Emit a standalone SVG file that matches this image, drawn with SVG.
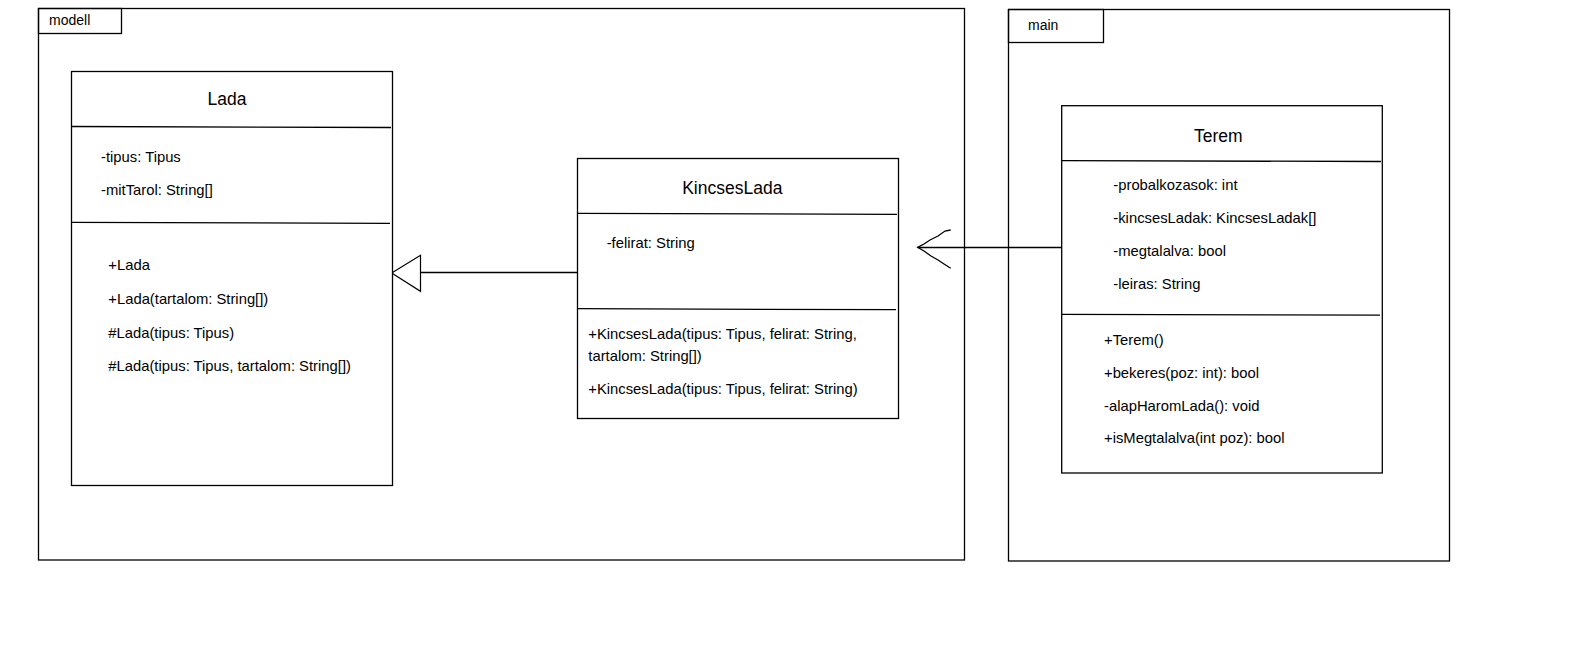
<svg xmlns="http://www.w3.org/2000/svg" width="1588" height="650" viewBox="0 0 1588 650">
<defs>
<style>
.frame{fill:none;stroke:#000;stroke-width:1.3}
.box{fill:#fff;stroke:#000;stroke-width:1.3}
.div{stroke:#000;stroke-width:1.3;fill:none}
.pkg{font-family:"Liberation Sans",Arial,sans-serif;font-size:14px;fill:#000}
.title{font-family:"Liberation Sans",Arial,sans-serif;font-size:17.5px;fill:#000;text-anchor:middle}
.mem{font-family:"Liberation Sans",Arial,sans-serif;font-size:14.8px;fill:#000}
.conn{stroke:#000;stroke-width:1.3;fill:none}
</style>
</defs>
<rect width="1588" height="650" fill="#fff"/>
<g id="pkg-modell">
<rect class="frame" x="38.5" y="8.5" width="926" height="551.5"/>
<rect class="frame" x="38.5" y="8.5" width="83" height="25"/>
<text class="pkg" x="49" y="25">modell</text>
</g>
<g id="pkg-main">
<rect class="frame" x="1008.5" y="9.5" width="441" height="551.5"/>
<rect class="frame" x="1008.5" y="9.5" width="95" height="33"/>
<text class="pkg" x="1028" y="30">main</text>
</g>
<g id="connectors">
<line class="conn" x1="420.5" y1="272.5" x2="578" y2="272.5"/>
<polygon points="391.7,273 420.5,255.3 420.5,291.3" fill="#fff" stroke="#000" stroke-width="1.2"/>
<line class="conn" x1="917.7" y1="247.5" x2="1062" y2="247.5"/>
<polyline class="conn" points="950.7,230 945,231 938,236 930,240 924,244 917.7,247.3 924,251 931,256 938,260 944,264 950.7,268.3"/>
</g>
<g id="Lada">
<rect class="box" x="71.5" y="71.5" width="321" height="414"/>
<text class="title" x="227" y="105">Lada</text>
<line class="div" x1="71.5" y1="126.5" x2="391" y2="127.5"/>
<text class="mem" x="101" y="161.5">-tipus: Tipus</text>
<text class="mem" x="101" y="195">-mitTarol: String[]</text>
<line class="div" x1="71.5" y1="222.3" x2="390" y2="223.3"/>
<text class="mem" x="108.3" y="270">+Lada</text>
<text class="mem" x="108.3" y="304">+Lada(tartalom: String[])</text>
<text class="mem" x="108.3" y="337.5">#Lada(tipus: Tipus)</text>
<text class="mem" x="108.3" y="371">#Lada(tipus: Tipus, tartalom: String[])</text>
</g>
<g id="KincsesLada">
<rect class="box" x="577.5" y="158.5" width="321" height="260"/>
<text class="title" x="732.3" y="194.3">KincsesLada</text>
<line class="div" x1="577.5" y1="213.3" x2="897" y2="214.3"/>
<text class="mem" x="606.7" y="247.7">-felirat: String</text>
<line class="div" x1="577.5" y1="308.7" x2="896" y2="309.7"/>
<text class="mem" x="588.3" y="339.3">+KincsesLada(tipus: Tipus, felirat: String,</text>
<text class="mem" x="588.3" y="360.7">tartalom: String[])</text>
<text class="mem" x="588.3" y="394">+KincsesLada(tipus: Tipus, felirat: String)</text>
</g>
<g id="Terem">
<rect class="box" x="1061.7" y="105.7" width="320.6" height="367.3"/>
<text class="title" x="1218.3" y="141.7">Terem</text>
<line class="div" x1="1061.7" y1="160.7" x2="1381" y2="161.5"/>
<text class="mem" x="1113.3" y="190">-probalkozasok: int</text>
<text class="mem" x="1113.3" y="223.3">-kincsesLadak: KincsesLadak[]</text>
<text class="mem" x="1113.3" y="256">-megtalalva: bool</text>
<text class="mem" x="1113.3" y="289">-leiras: String</text>
<line class="div" x1="1061.7" y1="314.3" x2="1380" y2="315.2"/>
<text class="mem" x="1104" y="345">+Terem()</text>
<text class="mem" x="1104" y="377.7">+bekeres(poz: int): bool</text>
<text class="mem" x="1104" y="410.7">-alapHaromLada(): void</text>
<text class="mem" x="1104" y="443.3">+isMegtalalva(int poz): bool</text>
</g>
</svg>
